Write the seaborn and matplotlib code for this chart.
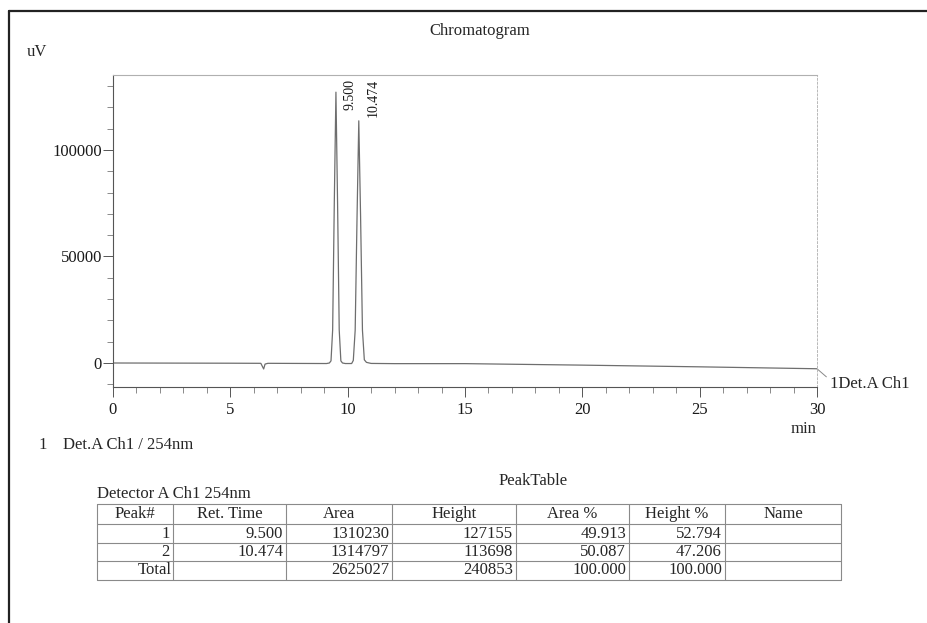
import numpy as np
import pandas as pd
import matplotlib
matplotlib.use("Agg")
import matplotlib.pyplot as plt
from matplotlib.lines import Line2D
import seaborn as sns

# ---------------- data ----------------
time_min = [0.0, 5.0, 6.30, 6.42, 6.48, 6.60, 9.10, 9.22, 9.29, 9.36, 9.43, 9.50,
            9.57, 9.64, 9.71, 9.78, 9.90, 10.17, 10.24, 10.32, 10.40, 10.474,
            10.55, 10.63, 10.71, 10.80, 11.00, 12.0, 15.0, 20.0, 25.0, 30.0]
signal_uv = [0, -100, -150, -2800, -500, -150, -250, 0, 1000, 15500, 75000, 127155,
             75000, 15500, 1000, 0, -250, -250, 1200, 15400, 69000, 113698,
             69000, 15400, 1500, 300, -200, -300, -300, -1000, -1800, -2700]

peak_times = [9.500, 10.474]
peak_labels = ["9.500", "10.474"]

table_header = ["Peak#", "Ret. Time", "Area", "Height", "Area %", "Height %", "Name"]
peak_no = ["1", "2", "Total"]
ret_time = ["9.500", "10.474", ""]
area = ["1310230", "1314797", "2625027"]
height = ["127155", "113698", "240853"]
area_pct = ["49.913", "50.087", "100.000"]
height_pct = ["52.794", "47.206", "100.000"]
name = ["", "", ""]

y_major = [0, 50000, 100000]
x_major = [0, 5, 10, 15, 20, 25, 30]

# ---------------- style ----------------
sns.set_style("white")
plt.rcParams["font.family"] = ["Liberation Serif", "DejaVu Serif"]
plt.rcParams["font.size"] = 12

W, H = 928, 623
fig = plt.figure(figsize=(W / 100, H / 100), dpi=100)
fig.patch.set_facecolor("white")


def fx(x):
    return x / W


def fy(y):
    return 1 - y / H


ax = fig.add_axes([fx(113), fy(387), (817 - 113) / W, (387 - 75) / H])
df = pd.DataFrame({"t": time_min, "uV": signal_uv})
sns.lineplot(data=df, x="t", y="uV", ax=ax, estimator=None, sort=False,
             color="#6e6e6e", linewidth=0.9)

ax.set_xlim(0, 30)
ax.set_ylim(-11268, 135211)
ax.set_xlabel("")
ax.set_ylabel("")
ax.set_xticks(x_major)
ax.set_xticklabels([str(v) for v in x_major])
ax.set_xticks(np.arange(0, 31, 1), minor=True)
ax.set_yticks(y_major)
ax.set_yticklabels([str(v) for v in y_major])
ax.set_yticks(np.arange(-10000, 135000, 10000), minor=True)
ax.tick_params(axis="both", which="major", length=7, width=0.7, color="#555555",
               labelsize=12, labelcolor="#1a1a1a", direction="out")
ax.tick_params(axis="both", which="minor", length=4, width=0.6, color="#777777",
               direction="out")
ax.tick_params(axis="x", which="major", pad=4)
ax.tick_params(axis="y", which="major", pad=1)
ax.tick_params(axis="x", which="both", bottom=True)
ax.tick_params(axis="y", which="both", left=True)

for s in ["left", "bottom"]:
    ax.spines[s].set_color("#555555")
    ax.spines[s].set_linewidth(0.8)
ax.spines["top"].set_color("#b0b0b0")
ax.spines["top"].set_linewidth(0.8)
ax.spines["right"].set_color("#b8b8b8")
ax.spines["right"].set_linewidth(0.7)
ax.spines["right"].set_linestyle((0, (2, 2)))

# peak labels
for t, lab in zip(peak_times, peak_labels):
    ax.text(t + 0.6, 133200, lab, rotation=90, ha="center", va="top",
            fontsize=10, color="#1a1a1a")

# connector to channel label
ax.plot([30, 30.4], [signal_uv[-1], -6500], color="#888888", lw=0.7, clip_on=False)

# ---------------- figure texts ----------------
fig.text(fx(480), fy(31), "Chromatogram", ha="center", va="center", fontsize=12)
fig.text(fx(27), fy(52), "uV", ha="left", va="center", fontsize=12)
fig.text(fx(816), fy(429), "min", ha="right", va="center", fontsize=12)
fig.text(fx(830), fy(384), "1Det.A Ch1", ha="left", va="center", fontsize=12)
fig.text(fx(38), fy(445), "1", ha="left", va="center", fontsize=12)
fig.text(fx(63), fy(445), "Det.A Ch1 / 254nm", ha="left", va="center", fontsize=12)
fig.text(fx(533), fy(481), "PeakTable", ha="center", va="center", fontsize=12)
fig.text(fx(97), fy(494), "Detector A Ch1 254nm", ha="left", va="center", fontsize=12)

# frame
fig.add_artist(Line2D([fx(9), fx(9)], [fy(11), fy(623)], transform=fig.transFigure,
                      color="#222222", lw=1.6))
fig.add_artist(Line2D([fx(9), fx(928)], [fy(11), fy(11)], transform=fig.transFigure,
                      color="#222222", lw=1.6))

# ---------------- peak table ----------------
cols = [97, 173, 286, 392, 516, 629, 725, 841]
rows = [504, 524, 543, 561, 580]
for c in cols:
    fig.add_artist(Line2D([fx(c), fx(c)], [fy(rows[0]), fy(rows[-1])],
                          transform=fig.transFigure, color="#8a8a8a", lw=0.8))
for r in rows:
    fig.add_artist(Line2D([fx(cols[0]), fx(cols[-1])], [fy(r), fy(r)],
                          transform=fig.transFigure, color="#8a8a8a", lw=0.8))

for i, h in enumerate(table_header):
    cx = (cols[i] + cols[i + 1]) / 2
    fig.text(fx(cx), fy((rows[0] + rows[1]) / 2), h, ha="center", va="center",
             fontsize=12)

columns = [peak_no, ret_time, area, height, area_pct, height_pct, name]
for ci, colvals in enumerate(columns):
    for ri, v in enumerate(colvals):
        if not v:
            continue
        yc = (rows[ri + 1] + rows[ri + 2]) / 2
        pad = 1 if (ci == 0 and v == "Total") else 3
        fig.text(fx(cols[ci + 1] - pad), fy(yc), v, ha="right", va="center",
                 fontsize=12)

fig.savefig("out.png", dpi=100, facecolor="white")
